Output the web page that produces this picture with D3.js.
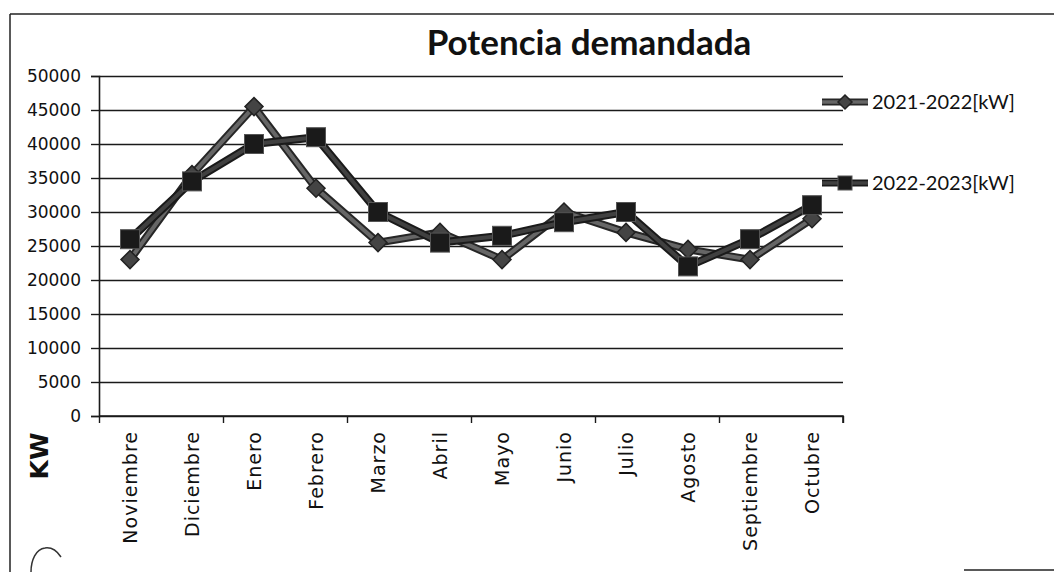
<!DOCTYPE html>
<html>
<head>
<meta charset="utf-8">
<script src="https://cdn.jsdelivr.net/npm/d3@7"></script>
<style>
  body { margin: 0; background: #fff; }
  svg { display: block; }
</style>
</head>
<body>
<svg id="chart" width="1054" height="572"></svg>
<script>
const months = ["Noviembre", "Diciembre", "Enero", "Febrero", "Marzo", "Abril",
  "Mayo", "Junio", "Julio", "Agosto", "Septiembre", "Octubre"];
const serie2122 = [23000, 35500, 45500, 33500, 25500, 27000, 23000, 30000, 27000, 24500, 23000, 29000];
const serie2223 = [26000, 34500, 40000, 41000, 30000, 25500, 26500, 28500, 30000, 22000, 26000, 31000];
const seriesNames = ["2021-2022[kW]", "2022-2023[kW]"];
const yTicks = [0, 5000, 10000, 15000, 20000, 25000, 30000, 35000, 40000, 45000, 50000];

const svg = d3.select("#chart");
const plotL = 99, plotR = 843, plotT = 76, plotB = 416;

// scanned page frame
svg.append("line").attr("x1", 10).attr("x2", 1054).attr("y1", 14).attr("y2", 14)
  .attr("stroke", "#222").attr("stroke-width", 1.5);
svg.append("line").attr("x1", 10).attr("x2", 10).attr("y1", 14).attr("y2", 572)
  .attr("stroke", "#222").attr("stroke-width", 1.5);
svg.append("line").attr("x1", 964).attr("x2", 1054).attr("y1", 570).attr("y2", 570)
  .attr("stroke", "#222").attr("stroke-width", 1.5);
svg.append("path").attr("d", "M31,572 C31,560 36,549 45,548 C52,547 57,551 61,557")
  .attr("fill", "none").attr("stroke", "#333").attr("stroke-width", 1.5);

const x = d3.scaleBand().domain(months).range([plotL, plotR]).padding(0);
const xIdx = d3.scaleLinear().domain([0, months.length]).range([plotL, plotR]);
const y = d3.scaleLinear().domain([0, 50000]).range([plotB, plotT]);
const cx = m => x(m) + x.bandwidth() / 2;

// title
svg.append("text")
  .attr("x", 589).attr("y", 55)
  .attr("text-anchor", "middle")
  .attr("font-family", "Lato, 'Open Sans', sans-serif")
  .attr("font-weight", "bold")
  .attr("font-size", 35)
  .attr("fill", "#111")
  .text("Potencia demandada");

// gridlines
svg.append("g")
  .attr("transform", `translate(${plotL},0)`)
  .call(d3.axisLeft(y).tickValues(yTicks).tickSize(-(plotR - plotL)).tickFormat(""))
  .call(g => g.select(".domain").remove())
  .call(g => g.selectAll("line").attr("stroke", "#1a1a1a").attr("stroke-width", 1.6));

// y axis
svg.append("g")
  .attr("transform", `translate(${plotL},0)`)
  .call(d3.axisLeft(y).tickValues(yTicks).tickSize(8).tickPadding(10).tickFormat(d3.format("d")))
  .call(g => g.select(".domain").attr("stroke", "#1a1a1a").attr("stroke-width", 1.6))
  .call(g => g.selectAll("line").attr("stroke", "#1a1a1a").attr("stroke-width", 1.4))
  .call(g => g.selectAll("text")
    .attr("font-family", "'DejaVu Sans', Verdana, sans-serif")
    .attr("font-size", 17).attr("fill", "#111"));

// x axis
svg.append("g")
  .attr("transform", `translate(0,${plotB})`)
  .call(d3.axisBottom(xIdx).tickValues(d3.range(0, months.length + 1, 2)).tickSize(7).tickFormat(""))
  .call(g => g.select(".domain").attr("stroke", "#1a1a1a").attr("stroke-width", 1.6).attr("d", `M${plotL},0H${plotR}V7`))
  .call(g => g.selectAll("line").attr("stroke", "#1a1a1a").attr("stroke-width", 1.4));

svg.append("g").selectAll("text")
  .data(months)
  .join("text")
  .attr("transform", d => `translate(${cx(d) + 7},${plotB + 15}) rotate(-90)`)
  .attr("text-anchor", "end")
  .attr("font-family", "'DejaVu Sans', Verdana, sans-serif")
  .attr("font-size", 19)
  .attr("letter-spacing", 1)
  .attr("fill", "#111")
  .text(d => d);

// y axis title
svg.append("text")
  .attr("transform", "translate(48,456) rotate(-90)")
  .attr("text-anchor", "middle")
  .attr("font-family", "'DejaVu Sans', Verdana, sans-serif")
  .attr("font-weight", "bold")
  .attr("font-size", 25)
  .attr("fill", "#111")
  .text("KW");

const styles = [
  { values: serie2122, inner: "#666", outer: "#262626", marker: "diamond" },
  { values: serie2223, inner: "#404040", outer: "#1a1a1a", marker: "square" }
];

const line = d3.line().x((d, i) => cx(months[i])).y(d => y(d));

const drawMarker = (g, type, px, py, big) => {
  if (type === "square") {
    const s = big ? 19 : 14;
    g.append("rect").attr("x", px - s / 2).attr("y", py - s / 2)
      .attr("width", s).attr("height", s)
      .attr("fill", "#1a1a1a").attr("stroke", "#555").attr("stroke-width", 1);
  } else {
    const s = big ? 9 : 7;
    g.append("path").attr("d", `M${px},${py - s}L${px + s},${py}L${px},${py + s}L${px - s},${py}Z`)
      .attr("fill", "#444").attr("stroke", "#222").attr("stroke-width", 1.5);
  }
};

styles.forEach(s => {
  const g = svg.append("g");
  g.append("path").datum(s.values).attr("d", line)
    .attr("fill", "none").attr("stroke", s.outer).attr("stroke-width", 8)
    .attr("stroke-linejoin", "round");
  g.append("path").datum(s.values).attr("d", line)
    .attr("fill", "none").attr("stroke", s.inner).attr("stroke-width", 4)
    .attr("stroke-linejoin", "round");
});
styles.forEach(s => {
  const g = svg.append("g");
  s.values.forEach((v, i) => drawMarker(g, s.marker, cx(months[i]), y(v), true));
});

// legend
const legendY = [102, 183];
styles.forEach((s, i) => {
  const g = svg.append("g");
  g.append("line").attr("x1", 822).attr("x2", 868).attr("y1", legendY[i]).attr("y2", legendY[i])
    .attr("stroke", s.outer).attr("stroke-width", 7);
  g.append("line").attr("x1", 822).attr("x2", 868).attr("y1", legendY[i]).attr("y2", legendY[i])
    .attr("stroke", s.inner).attr("stroke-width", 3.5);
  drawMarker(g, s.marker, 845, legendY[i], false);
  g.append("text")
    .attr("x", 872).attr("y", legendY[i] + 7)
    .attr("font-family", "Lato, 'Open Sans', sans-serif")
    .attr("font-size", 20)
    .attr("fill", "#111")
    .text(seriesNames[i]);
});
</script>
</body>
</html>
